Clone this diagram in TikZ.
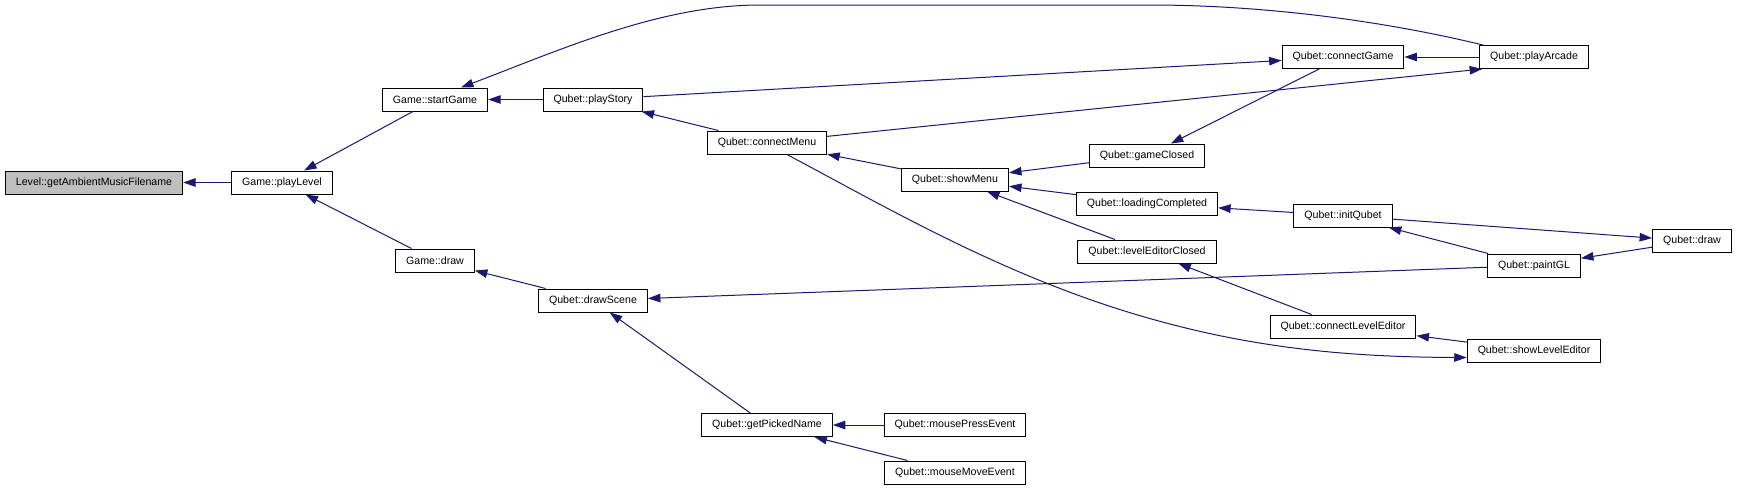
\documentclass[tikz,border=0pt]{standalone}
\usepackage{fontspec}
\setmainfont{Liberation Sans}
\usetikzlibrary{arrows.meta}
\definecolor{midnight}{HTML}{191970}
\definecolor{grey75}{HTML}{BFBFBF}

\begin{document}
\begin{tikzpicture}[x=1pt, y=-1pt, every node/.style={font=\fontsize{10.6}{12}\selectfont}, fn/.style={draw=black, line width=1pt, fill=white, minimum height=23pt, inner xsep=10.5pt, inner ysep=0pt}, e/.style={draw=midnight, line width=1pt, -{Triangle[length=12.5pt, width=8.5pt]}}]
	\useasboundingbox (0,0) rectangle (1739,491);
	\node[fn, fill=grey75] (level) at (94,182.5) {Level::getAmbientMusicFilename};
	\foreach \n/\x/\y/\t in {playlevel/282/182.5/Game::playLevel, startgame/435/99.5/Game::startGame, gdraw/435/260.5/Game::draw, playstory/593/99.5/Qubet::playStory, cmenu/767/142.5/Qubet::connectMenu, drawscene/593/300.5/Qubet::drawScene, picked/767/425/Qubet::getPickedName, showmenu/955/179.5/Qubet::showMenu, mpress/955/425/Qubet::mousePressEvent, mmove/955/472.5/Qubet::mouseMoveEvent, gclosed/1147/155.5/Qubet::gameClosed, loading/1147/203.5/Qubet::loadingCompleted, leclosed/1147/251.5/Qubet::levelEditorClosed, cgame/1343/57/Qubet::connectGame, initq/1343/215.5/Qubet::initQubet, cle/1343/326.5/Qubet::connectLevelEditor, arcade/1534/57/Qubet::playArcade, paintgl/1534/265.5/Qubet::paintGL, showle/1534/350.5/Qubet::showLevelEditor, qdraw/1692/241/Qubet::draw} {\node[fn] (\n) at (\x,\y) {\t};}
	\foreach \a/\b in {playlevel/level, startgame/playlevel, gdraw/playlevel, playstory/startgame, cmenu/playstory, playstory/cgame, arcade/cgame, cgame/gclosed, showmenu/cmenu, gclosed/showmenu, loading/showmenu, leclosed/showmenu, initq/loading, initq/qdraw, paintgl/initq, qdraw/paintgl, paintgl/drawscene, drawscene/gdraw, picked/drawscene, mpress/picked, mmove/picked, cle/leclosed, showle/cle} {\draw[e] (\a) -- (\b);}
	\draw[e] (cmenu) -- ([xshift=3pt]arcade.south west);
	\draw[e] ([xshift=-51pt]arcade.north) .. controls (1380,20) and (1260,5) .. (1150,5) -- (760,5) .. controls (660,5) and (560,50) .. ([xshift=26pt]startgame.north);
	\draw[e] ([xshift=20pt]cmenu.south) .. controls (880,204) and (980,262) .. (1100,303) .. controls (1230,347) and (1340,357) .. ([yshift=-7pt]showle.west);
\end{tikzpicture}
\end{document}
